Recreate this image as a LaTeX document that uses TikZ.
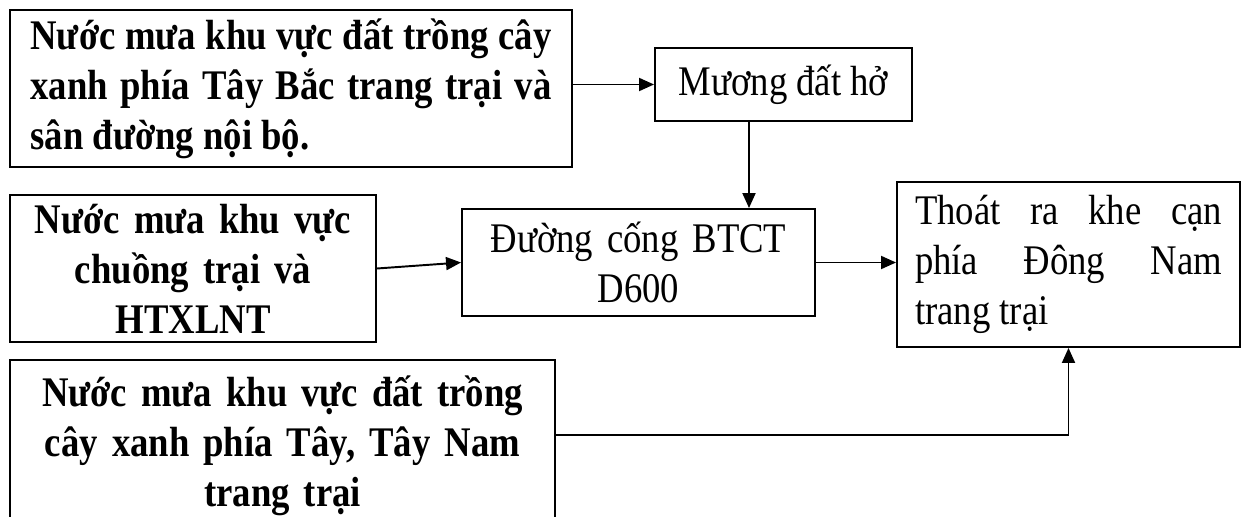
\documentclass[tikz,border=0pt]{standalone}
\usepackage{fontspec}
\setmainfont{Liberation Serif}[FakeStretch=0.87]
\usetikzlibrary{arrows.meta}

\begin{document}
\begin{tikzpicture}[
    box/.style={draw, line width=1.1pt, inner ysep=0pt, font=\fontsize{24}{28.5}\selectfont},
    bold/.style={font=\fontsize{24}{28.5}\selectfont\bfseries},
    flow/.style={draw, line width=1.1pt, -{Triangle[length=0.3cm,width=0.26cm]}}
  ]
        \useasboundingbox (0,0) rectangle (25,-10.34);

        \node[box, bold, text width=10.42cm, inner xsep=0.41cm, minimum height=3.14cm, align=justify] at (5.82,-1.77) (rainnw)
            {Nước mưa khu vực đất trồng cây\linebreak xanh phía Tây Bắc trang trại và\linebreak sân đường nội bộ.};
        \node[box, minimum width=5.14cm, minimum height=1.46cm] at (15.67,-1.69) (ditch) {Mương đất hở};
        \node[box, bold, text width=6.6cm, inner xsep=0.36cm, minimum height=2.94cm, align=center] at (3.86,-5.37) (rainfarm)
            {Nước mưa khu vực\\ chuồng trại và\\ HTXLNT};
        \node[box, text width=6.4cm, inner xsep=0.33cm, minimum height=2.14cm, align=center] at (12.77,-5.25) (culvert)
            {Đường cống BTCT\\ D600};
        \node[box, text width=6.14cm, inner xsep=0.36cm, minimum height=3.3cm, align=justify] at (21.37,-5.29) (outlet)
            {Thoát ra khe cạn\linebreak phía Đông Nam\linebreak trang trại};
        \node[box, bold, text width=10.2cm, inner xsep=0.35cm, minimum height=3.44cm, align=center] at (5.65,-8.92) (rainsw)
            {Nước mưa khu vực đất trồng\\ cây xanh phía Tây, Tây Nam\\ trang trại};

        \path
        (rainnw.east |- ditch.west) edge[flow] (ditch.west)
        ([xshift=-0.69cm]ditch.south) edge[flow] ([xshift=-0.69cm]ditch.south |- culvert.north)
        (rainfarm.east) edge[flow] (culvert.west)
        (culvert.east) edge[flow] (culvert.east -| outlet.west);
        \draw[flow] ([yshift=0.22cm]rainsw.east) -| (outlet.south);
    \end{tikzpicture}
\end{document}
